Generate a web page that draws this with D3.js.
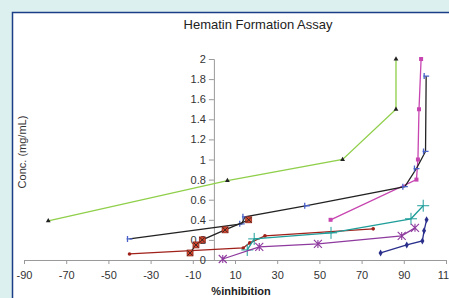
<!DOCTYPE html>
<html>
<head>
<meta charset="utf-8">
<script src="https://cdn.jsdelivr.net/npm/d3@7"></script>
<style>
  html, body { margin: 0; padding: 0; background: #dcf0ef; }
  svg { display: block; }
</style>
</head>
<body>
<div id="chart"></div>
<script>
// values
const xTicks = [-90, -70, -50, -30, -10, 10, 30, 50, 70, 90, 110];
const yTicks = [0, 0.2, 0.4, 0.6, 0.8, 1, 1.2, 1.4, 1.6, 1.8, 2];

const greenPts = [[-78.5, 0.39], [6.4, 0.79], [61, 1.0], [86.3, 1.5], [86.3, 2.0]];
const magentaPts = [[55.3, 0.4], [96, 0.8], [96.7, 1.0], [97.2, 1.5], [98.2, 2.0]];
const blackPts = [[-40, 0.21], [13.2, 0.36], [14.7, 0.43], [44, 0.54], [90.5, 0.73], [96, 0.91], [100.3, 1.08], [100.6, 1.83]];
const redXPts = [[-11.3, 0.07], [-8.5, 0.15], [-5.5, 0.2], [5.3, 0.3], [16.5, 0.4]];
const darkRedPts = [[-40, 0.06], [13.9, 0.12], [17, 0.17], [24.2, 0.24], [75.5, 0.31]];
const tealPts = [[15.8, 0.1], [19.1, 0.21], [55.5, 0.27], [93.4, 0.41], [99.2, 0.54]];
const purplePts = [[4.2, 0.01], [21.5, 0.13], [49.3, 0.16], [89, 0.24], [95.3, 0.32]];
const navyPts = [[79, 0.07], [91.4, 0.15], [98.8, 0.19], [99.6, 0.29], [100.8, 0.4]];

const W = 449, H = 298;
const svg = d3.select('#chart').append('svg').attr('width', W).attr('height', H);
const font = 'Liberation Sans, Arial, sans-serif';

// chart frame
svg.append('rect').attr('x', 12.5).attr('y', 12.5).attr('width', W).attr('height', H)
  .attr('fill', '#fff').attr('stroke', '#1b3f86').attr('stroke-width', 1.5);

svg.append('text').attr('x', 258).attr('y', 29).attr('text-anchor', 'middle')
  .attr('font-family', font).attr('font-size', 13).attr('fill', '#222')
  .text('Hematin Formation Assay');

const x = d3.scaleLinear().domain([-90, 110]).range([24, 446]);
const y = d3.scaleLinear().domain([0, 2]).range([260, 59]);

const xAxis = svg.append('g').attr('transform', `translate(0,${y(0)})`)
  .call(d3.axisBottom(x).tickValues(xTicks).tickSize(4).tickFormat(d => String(d)));
const yAxis = svg.append('g').attr('transform', `translate(${x(0)},0)`)
  .call(d3.axisLeft(y).tickValues(yTicks).tickSize(5).tickFormat(d => String(+d.toFixed(1))));

[xAxis, yAxis].forEach(a => {
  a.select('.domain').attr('stroke', '#9a9a9a');
  a.selectAll('.tick line').attr('stroke', '#9a9a9a');
  a.selectAll('.tick text').attr('font-family', font).attr('font-size', 11).attr('fill', '#333');
});
xAxis.selectAll('.tick text').attr('dy', '1.05em');
yAxis.selectAll('.tick text').attr('x', -8);

svg.append('text').attr('x', 241).attr('y', 295).attr('text-anchor', 'middle')
  .attr('font-family', font).attr('font-size', 11).attr('font-weight', 'bold').attr('fill', '#222')
  .text('%inhibition');

svg.append('text').attr('transform', 'translate(26,152) rotate(-90)').attr('text-anchor', 'middle')
  .attr('font-family', font).attr('font-size', 11).attr('fill', '#333')
  .text('Conc. (mg/mL)');

const line = d3.line().x(d => x(d[0])).y(d => y(d[1]));
const sym = (type, size) => d3.symbol().type(type).size(size)();

function series(pts, lineColor, drawMarker) {
  const g = svg.append('g');
  g.append('path').attr('d', line(pts)).attr('fill', 'none')
    .attr('stroke', lineColor).attr('stroke-width', 1.3);
  pts.forEach(p => {
    const m = g.append('g').attr('transform', `translate(${x(p[0])},${y(p[1])})`);
    drawMarker(m);
  });
}

series(greenPts, '#8fcf4a', m => m.append('path').attr('d', sym(d3.symbolTriangle, 10)).attr('fill', '#222'));
series(darkRedPts, '#a0201a', m => m.append('circle').attr('r', 1.8).attr('fill', '#a0201a'));
series(tealPts, '#1f9e9a', m => m.append('path').attr('d', 'M-6,0H6M0,-6V6').attr('stroke', '#1f9e9a').attr('stroke-width', 1));
series(purplePts, '#8e3a9e', m => m.append('path').attr('d', 'M-4,-4L4,4M-4,4L4,-4M0,-4V4')
  .attr('stroke', '#8e3a9e').attr('stroke-width', 1.1));
series(navyPts, '#2a2f8c', m => m.append('path').attr('d', sym(d3.symbolDiamond, 14)).attr('fill', '#2a2f8c'));
series(magentaPts, '#c745b0', m => m.append('rect').attr('x', -2).attr('y', -2).attr('width', 4).attr('height', 4).attr('fill', '#c745b0'));
series(blackPts, '#222', m => m.append('path').attr('d', 'M-3,0H3M-2,-3V3').attr('stroke', '#4b63c8').attr('stroke-width', 1.3));
series(redXPts, '#222', m => {
  m.append('rect').attr('x', -3).attr('y', -3).attr('width', 6).attr('height', 6)
    .attr('fill', '#d9482e').attr('stroke', '#8a2014').attr('stroke-width', 0.7);
  m.append('path').attr('d', 'M-2.5,-2.5L2.5,2.5M-2.5,2.5L2.5,-2.5').attr('stroke', '#222').attr('stroke-width', 0.9);
});
</script>
</body>
</html>
